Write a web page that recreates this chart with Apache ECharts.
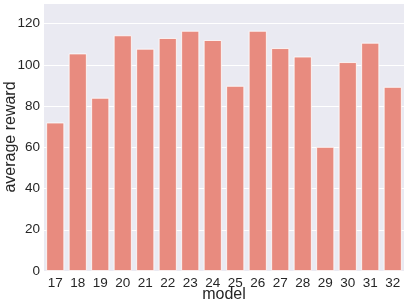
<!DOCTYPE html>
<html><head><meta charset="utf-8">
<script src="https://cdn.jsdelivr.net/npm/echarts@6/dist/echarts.min.js"></script>
<style>html,body{margin:0;padding:0;background:#fff}#c{width:407px;height:306px}</style>
</head><body><div id="c"></div>
<script>
const categories = ['17','18','19','20','21','22','23','24','25','26','27','28','29','30','31','32'];
const values = [72, 105.5, 84, 114.3, 107.8, 113, 116.5, 112, 89.8, 116.5, 108.1, 104, 60.2, 101.3, 110.7, 89.3];
const yTicks = [0, 20, 40, 60, 80, 100, 120];

const FONT = 'Liberation Sans, Arial, sans-serif';
const chart = echarts.init(document.getElementById('c'), null, {renderer: 'canvas'});
chart.setOption({
  animation: false,
  backgroundColor: '#ffffff',
  grid: {left: 44, right: 3, top: 3, bottom: 35, show: true, backgroundColor: '#EAEAF2', borderWidth: 0,
         containLabel: false, outerBoundsMode: 'none'},
  xAxis: {
    type: 'category', data: categories,
    name: 'model', nameLocation: 'middle', nameGap: 16, nameMoveOverlap: false,
    nameTextStyle: {fontSize: 16, color: '#262626', fontFamily: FONT},
    axisLine: {show: false}, axisTick: {show: false},
    axisLabel: {fontSize: 13.5, color: '#262626', fontFamily: FONT, margin: 5, interval: 0},
    splitLine: {show: false}
  },
  yAxis: {
    type: 'value', min: 0, max: 130, interval: 20,
    name: 'average reward', nameLocation: 'middle', nameGap: 25, nameMoveOverlap: false,
    nameTextStyle: {fontSize: 16, color: '#262626', fontFamily: FONT},
    axisLine: {show: false}, axisTick: {show: false},
    axisLabel: {fontSize: 13.5, color: '#262626', fontFamily: FONT, margin: 4,
      formatter: v => yTicks.includes(v) ? String(v) : ''},
    splitLine: {show: true, lineStyle: {color: '#ffffff', width: 1}}
  },
  series: [{
    type: 'bar', data: values, barCategoryGap: '20%',
    itemStyle: {color: '#E88B7F', borderColor: '#ffffff', borderWidth: 0.8}
  }]
});
</script></body></html>
